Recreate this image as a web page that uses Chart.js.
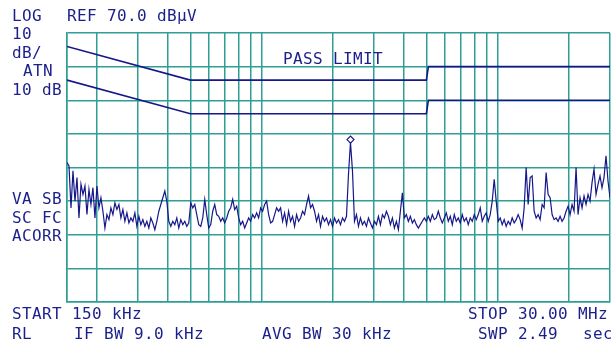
<!DOCTYPE html>
<html>
<head>
<meta charset="utf-8">
<script src="https://cdn.jsdelivr.net/npm/chart.js@4"></script>
<style>
  body { margin: 0; background: #ffffff; }
  #wrap { position: relative; width: 611px; height: 344px; overflow: hidden; }
  #myChart { display: block; }
  .lbl {
    position: absolute;
    font-family: "DejaVu Sans Mono", "Liberation Mono", monospace;
    font-size: 16px;
    line-height: 16px;
    letter-spacing: 0.37px;
    color: #1b1f8a;
    white-space: pre;
  }
</style>
</head>
<body>
<div id="wrap">
  <canvas id="myChart" width="611" height="344"></canvas>
  <div class="lbl" style="left:12px;top:8px">LOG</div>
  <div class="lbl" style="left:67px;top:8px">REF 70.0 dBµV</div>
  <div class="lbl" style="left:12px;top:26px">10</div>
  <div class="lbl" style="left:12px;top:45px">dB/</div>
  <div class="lbl" style="left:23px;top:63px">ATN</div>
  <div class="lbl" style="left:12px;top:82px">10 dB</div>
  <div class="lbl" style="left:283px;top:51px">PASS LIMIT</div>
  <div class="lbl" style="left:12px;top:191px">VA SB</div>
  <div class="lbl" style="left:12px;top:210px">SC FC</div>
  <div class="lbl" style="left:12px;top:228px">ACORR</div>
  <div class="lbl" style="left:12px;top:306px">START 150 kHz</div>
  <div class="lbl" style="left:468px;top:306px">STOP 30.00 MHz</div>
  <div class="lbl" style="left:12px;top:326px">RL</div>
  <div class="lbl" style="left:74px;top:326px">IF BW 9.0 kHz</div>
  <div class="lbl" style="left:262px;top:326px">AVG BW 30 kHz</div>
  <div class="lbl" style="left:478px;top:326px">SWP 2.49</div>
  <div class="lbl" style="left:583px;top:326px">sec</div>
</div>
<script>
// frequency span (Hz) and reference level (dBuV)
const startFreq = 150e3;
const stopFreq = 30e6;
const refLevel = 70;
const bottomLevel = -10;

// vertical grid lines, 1-2-3..9 per decade
const gridFreqs = [
  150e3, 200e3, 300e3, 400e3, 500e3, 600e3, 700e3, 800e3, 900e3,
  1e6, 2e6, 3e6, 4e6, 5e6, 6e6, 7e6, 8e6, 9e6, 10e6, 20e6, 30e6,
];

// limit lines (quasi peak / average)
const limitFreq = [150e3, 500e3, 5e6, 5.1e6, 30e6];
const qpLimit = [66, 56, 56, 60, 60];
const avgLimit = [56, 46, 46, 50, 50];

// measured trace, one value per sweep point (dBuV)
const traceDb = [
  31.5, 30.5, 18, 29, 20, 27, 15, 25, 22, 24.5, 16, 23.5, 19, 24, 15,
  24.5, 18, 21, 17, 12, 16, 14.5, 18, 16, 19.5, 17.5, 19, 15, 17.5, 14,
  16.5, 13.5, 15, 14, 16.5, 12.5, 15.5, 13, 14.5, 12.5, 14, 12, 15, 13.5,
  11.5, 14, 17, 19, 21, 23, 20, 14, 12.5,
  14, 13, 15, 12, 14.5, 13, 14, 12.5, 13.5, 19.5, 18, 19, 16, 13, 12.5,
  15, 20.5, 16, 12, 13, 17, 19, 16, 15.5, 14, 15, 13.5, 15, 17, 18, 20.5,
  17.5, 18.5, 15, 13, 14, 12, 13.5, 15, 14, 16, 15, 16.5, 15, 18, 17, 19,
  20, 16, 13.5, 14, 16, 18, 17,
  18, 14, 16.5, 13, 17, 14, 15.5, 12.5, 16, 14, 15, 17, 16, 19, 21.5, 18,
  19, 17, 14, 16, 12.5, 15.5, 14, 15, 13, 14.5, 12.5, 15, 13.5, 14.5, 13,
  15, 14, 15.5, 28, 37.5, 29, 14, 16, 12.5, 15, 13, 14, 12.5, 15, 13.5,
  12, 14, 13, 15.5, 13, 16, 15, 17, 15.5,
  13, 15, 12, 14, 11.5, 17, 22.5, 15, 16, 14, 15.5, 13.5, 14.5, 13, 12,
  13, 14, 15, 14, 15.5, 14, 16, 14.5, 15, 17, 15, 13.5, 15, 16.5, 14,
  15.5, 13, 16, 14, 15, 13.5, 16, 14, 15, 13, 15, 14, 16, 14.5, 16, 18,
  14, 15.5, 16.5, 14, 16, 20, 26.5, 20, 14,
  15, 13, 14.5, 12.5, 14, 13, 15, 13.5, 14.5, 16, 14.5, 12, 18, 30, 19,
  27, 27.5, 17, 15, 16, 14.5, 19, 18, 28.5, 22, 21, 16, 14.5, 15, 14,
  15.5, 14, 15, 17, 18.5, 16, 19, 17, 30, 16, 21, 18, 21.5, 19, 22, 20,
  25.5, 29.5, 22, 25, 27.5, 24, 27, 33.5, 26, 21,
];

// marker on the largest spike
const markerIndex = [142];
const markerDb = [38.3];

const gridColor = "#2f9e94";
const traceColor = "#16188a";

// build the datasets from the arrays above
const qpPoints = [];
const avgPoints = [];
for (let i = 0; i < limitFreq.length; i++) {
  qpPoints.push({ x: limitFreq[i], y: qpLimit[i] });
  avgPoints.push({ x: limitFreq[i], y: avgLimit[i] });
}
const tracePoints = traceDb.map((v, i) => ({ x: i, y: v }));
const markerPoints = markerIndex.map((v, i) => ({ x: v, y: markerDb[i] }));

let ctx = document.getElementById("myChart").getContext("2d");
let chart = new Chart(ctx, {
  type: "line",
  data: {
    datasets: [
      {
        label: "QP limit",
        data: qpPoints,
        xAxisID: "x",
        borderColor: traceColor,
        borderWidth: 1.6,
        pointRadius: 0,
        tension: 0,
      },
      {
        label: "AV limit",
        data: avgPoints,
        xAxisID: "x",
        borderColor: traceColor,
        borderWidth: 1.6,
        pointRadius: 0,
        tension: 0,
      },
      {
        label: "Trace",
        data: tracePoints,
        xAxisID: "xi",
        borderColor: traceColor,
        borderWidth: 1.2,
        pointRadius: 0,
        tension: 0,
      },
      {
        label: "Marker",
        data: markerPoints,
        xAxisID: "xi",
        showLine: false,
        pointStyle: "rectRot",
        pointRadius: 3.5,
        pointBackgroundColor: "#ffffff",
        pointBorderColor: traceColor,
        pointBorderWidth: 1.2,
      },
    ],
  },
  options: {
    responsive: false,
    devicePixelRatio: 1,
    animation: false,
    // no automatic padding, the plot box must sit at fixed pixels
    layout: {
      autoPadding: false,
      padding: { left: 67, top: 33, right: 1, bottom: 42 },
    },
    plugins: {
      legend: { display: false },
      tooltip: { enabled: false },
    },
    scales: {
      x: {
        type: "logarithmic",
        min: startFreq,
        max: stopFreq,
        afterBuildTicks: (axis) => {
          axis.ticks = gridFreqs.map((f) => ({ value: f }));
        },
        ticks: { display: false },
        grid: { color: gridColor, lineWidth: 1.5, drawTicks: false },
        border: { color: gridColor, width: 1.5 },
      },
      xi: {
        type: "linear",
        min: 0,
        max: traceDb.length - 1,
        display: false,
      },
      y: {
        type: "linear",
        min: bottomLevel,
        max: refLevel,
        ticks: { display: false, stepSize: 10 },
        grid: { color: gridColor, lineWidth: 1.5, drawTicks: false },
        border: { color: gridColor, width: 1.5 },
      },
    },
  },
});
</script>
</body>
</html>
